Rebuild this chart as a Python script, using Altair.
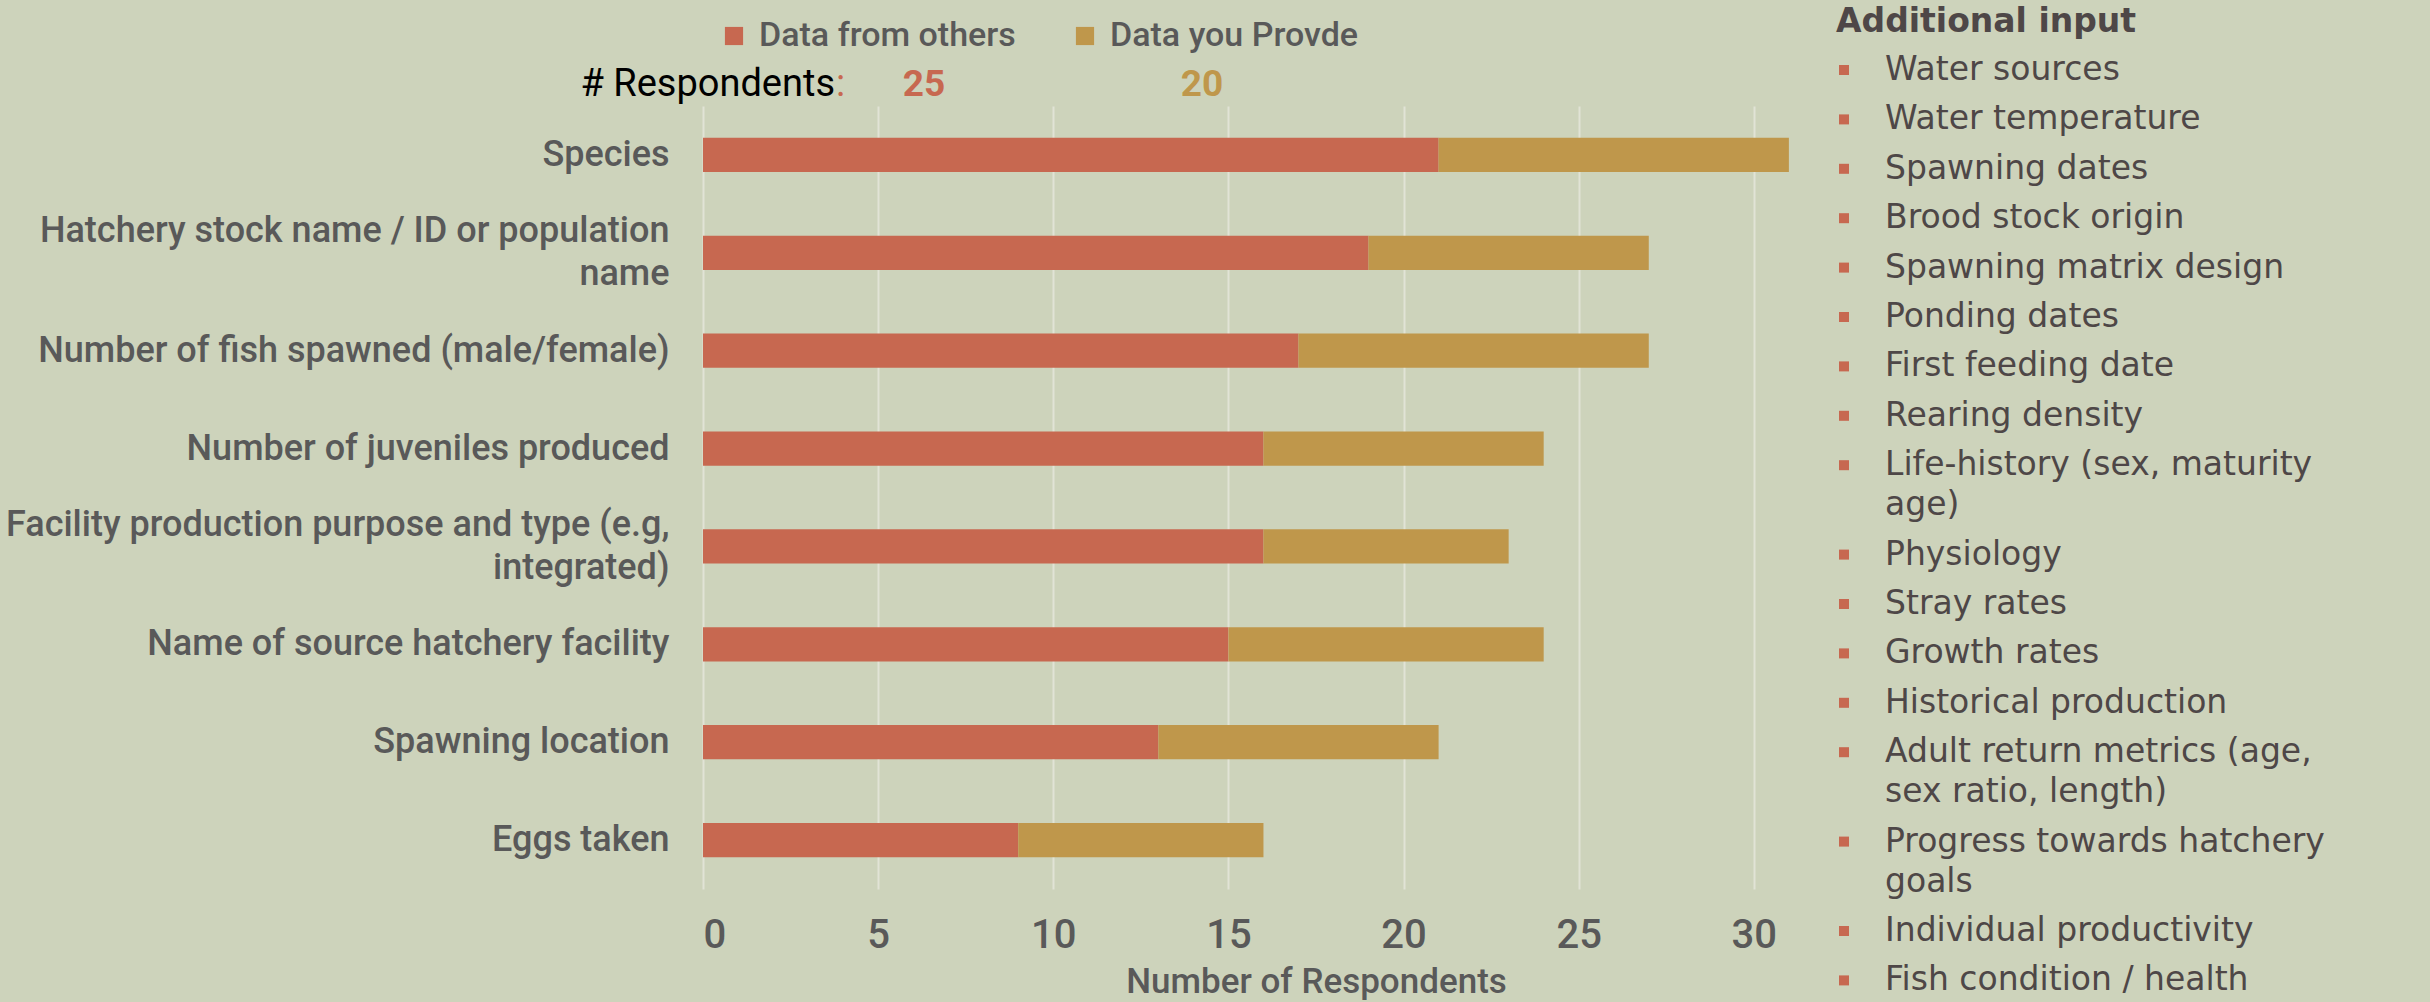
import altair as alt
import pandas as pd

# ---------------- data ----------------
categories = [
    "Species",
    "Hatchery stock name / ID or population\nname",
    "Number of fish spawned (male/female)",
    "Number of juveniles produced",
    "Facility production purpose and type (e.g,\nintegrated)",
    "Name of source hatchery facility",
    "Spawning location",
    "Eggs taken",
]
data_from_others = [21, 19, 17, 16, 16, 15, 13, 9]
data_you_provide = [10, 8, 10, 8, 7, 9, 8, 7]
series = ["Data from others", "Data you Provde"]
respondents = [25, 20]
x_ticks = [0, 5, 10, 15, 20, 25, 30]

panel_title = "Additional input"
additional_input = [
    "Water sources",
    "Water temperature",
    "Spawning dates",
    "Brood stock origin",
    "Spawning matrix design",
    "Ponding dates",
    "First feeding date",
    "Rearing density",
    "Life-history (sex, maturity\nage)",
    "Physiology",
    "Stray rates",
    "Growth rates",
    "Historical production",
    "Adult return metrics (age,\nsex ratio, length)",
    "Progress towards hatchery\ngoals",
    "Individual productivity",
    "Fish condition / health",
]

# ---------------- styles ----------------
BG = "#CDD3BB"
RED = "#C76850"
GOLD = "#BF974B"
GREY = "#595959"
PANEL_TXT = "#4E4747"
FONT = "Roboto"
LINE_H = 43

rows = []
for i, c in enumerate(categories):
    rows.append({"category": c, "series": series[0], "value": data_from_others[i], "ord": 0})
    rows.append({"category": c, "series": series[1], "value": data_you_provide[i], "ord": 1})
bars_df = pd.DataFrame(rows)

bars = alt.Chart(bars_df).mark_bar().encode(
    x=alt.X(
        "value:Q",
        stack="zero",
        scale=alt.Scale(domain=[0, 35], nice=False),
        axis=alt.Axis(
            values=x_ticks,
            grid=True,
            gridColor="#E1E3D6",
            gridWidth=2,
            ticks=False,
            domain=False,
            labelFontSize=40,
            labelColor=GREY,
            labelFont=FONT,
            labelFontWeight=500,
            labelPadding=26,
            title="Number of Respondents",
            titleFontSize=35,
            titleColor=GREY,
            titleFont=FONT,
            titleFontWeight=500,
            titleY=92,
            titleBaseline="middle",
        ),
    ),
    y=alt.Y(
        "category:N",
        sort=categories,
        scale=alt.Scale(paddingInner=0.65, paddingOuter=0.325),
        axis=alt.Axis(
            title=None,
            ticks=False,
            domain=False,
            grid=False,
            labelFontSize=36,
            labelColor=GREY,
            labelFont=FONT,
            labelFontWeight=500,
            labelPadding=34,
            labelLimit=900,
            labelLineHeight=LINE_H,
            labelExpr="split(datum.label, '\\n')",
            labelOffset={
                "condition": {"test": "indexof(datum.value, '\\n') >= 0", "value": -LINE_H / 2},
                "value": 0,
            },
        ),
    ),
    color=alt.Color(
        "series:N",
        scale=alt.Scale(domain=series, range=[RED, GOLD]),
        legend=alt.Legend(
            title=None,
            orient="none",
            direction="horizontal",
            legendX=14,
            legendY=-87,
            symbolType="square",
            symbolSize=330,
            symbolStrokeWidth=0,
            labelFontSize=34,
            labelColor=GREY,
            labelFont=FONT,
            labelFontWeight=500,
            labelLimit=800,
            labelOffset=8,
            columnPadding=52,
            padding=0,
        ),
    ),
    order=alt.Order("ord:Q"),
)

# "# Respondents:" row
resp_df = pd.DataFrame({
    "t": [str(v) for v in respondents],
    "series": series,
    "px": [221, 499],
    "py": [-21, -21],
})
resp_label = alt.Chart(pd.DataFrame({"t": ["# Respondents"], "px": [132], "py": [-21]})).mark_text(
    align="right", baseline="middle", fontSize=38, font=FONT, color="#000000"
).encode(x=alt.X("px:Q", scale=None, axis=None), y=alt.Y("py:Q", scale=None, axis=None), text="t:N")
resp_colon = alt.Chart(pd.DataFrame({"t": [":"], "px": [133], "py": [-21]})).mark_text(
    align="left", baseline="middle", fontSize=38, font=FONT, color=RED
).encode(x=alt.X("px:Q", scale=None, axis=None), y=alt.Y("py:Q", scale=None, axis=None), text="t:N")
resp_nums = alt.Chart(resp_df).mark_text(
    align="center", baseline="middle", fontSize=37, font=FONT, fontWeight="bold"
).encode(
    x=alt.X("px:Q", scale=None, axis=None),
    y=alt.Y("py:Q", scale=None, axis=None),
    text="t:N",
    color=alt.Color("series:N", scale=alt.Scale(domain=series, range=[RED, GOLD]), legend=None),
)

# right-hand "Additional input" panel
lines = []
y = -36.0
for item in additional_input:
    parts = item.split("\n")
    for j, p in enumerate(parts):
        lines.append({"t": p, "py": y, "px": 1182, "bullet": j == 0})
        y += 40 if j < len(parts) - 1 else 49.4
panel_df = pd.DataFrame(lines)
bullet_df = panel_df[panel_df["bullet"]].assign(px=1141)

panel_head = alt.Chart(pd.DataFrame({"t": [panel_title], "px": [1133], "py": [-84]})).mark_text(
    align="left", baseline="middle", fontSize=33, font="DejaVu Sans", fontWeight="bold", color=PANEL_TXT
).encode(x=alt.X("px:Q", scale=None, axis=None), y=alt.Y("py:Q", scale=None, axis=None), text="t:N")
panel_text = alt.Chart(panel_df).mark_text(
    align="left", baseline="middle", fontSize=33, font="DejaVu Sans", color=PANEL_TXT
).encode(x=alt.X("px:Q", scale=None, axis=None), y=alt.Y("py:Q", scale=None, axis=None), text="t:N")
panel_bullets = alt.Chart(bullet_df).mark_square(size=100, color=RED, opacity=1).encode(
    x=alt.X("px:Q", scale=None, axis=None), y=alt.Y("py:Q", scale=None, axis=None)
)

chart = alt.layer(
    bars, resp_label, resp_colon, resp_nums, panel_head, panel_text, panel_bullets
).resolve_scale(
    x="independent", y="independent", color="independent"
).properties(
    width=1226,
    height=783,
    background=BG,
    autosize=alt.AutoSizeParams(type="none"),
    padding={"left": 703, "top": 106, "right": 501, "bottom": 113},
).configure_view(stroke=None)

chart.save("out.html", embed_options={"renderer": "svg", "actions": False})
